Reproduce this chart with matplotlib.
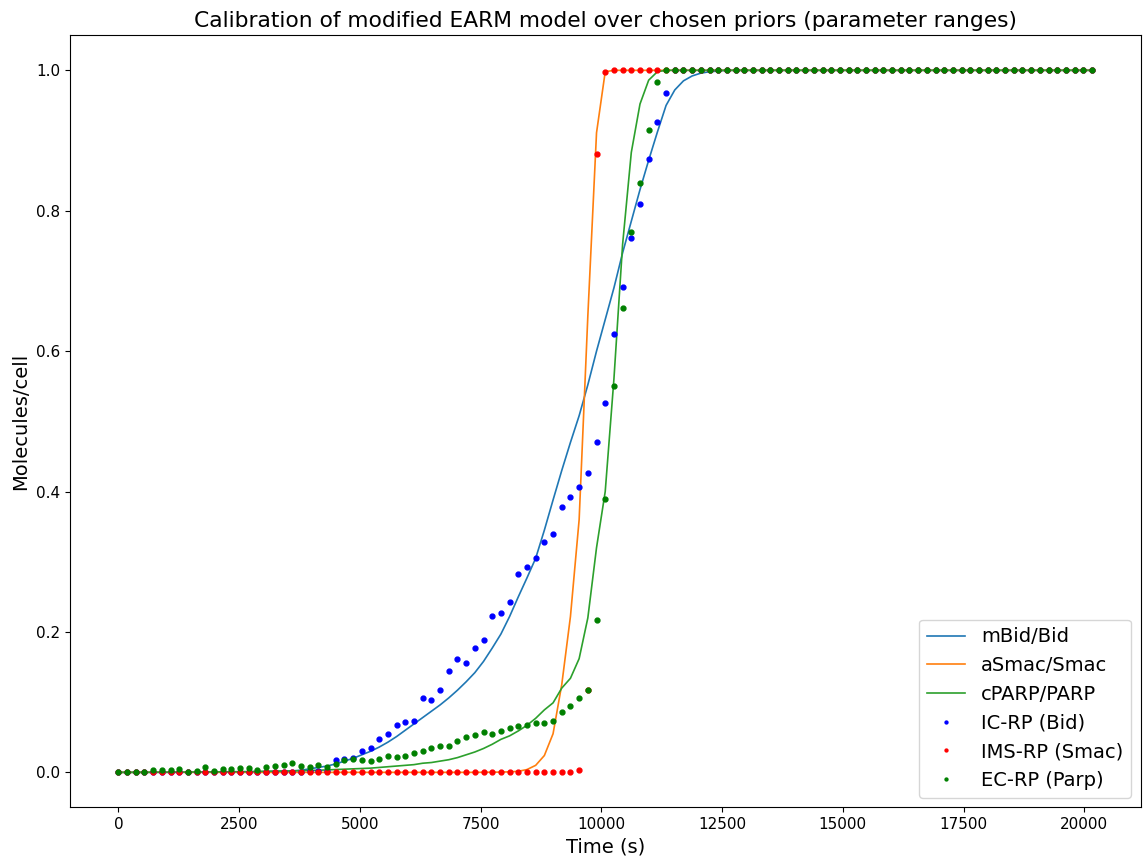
import numpy as np
import matplotlib
matplotlib.use('Agg')
import matplotlib.pyplot as plt

# time grid of the EARM data (s), one point every 180 s
time = np.arange(0, 20161, 180)

# model simulations (normalised)
mbid = [0.0, 0.0, 0.0, 0.0, 0.0001, 0.0001, 0.0001, 0.0002, 0.0002, 0.0003,
        0.0003, 0.0004, 0.0005, 0.0006, 0.0007, 0.0008, 0.001, 0.0012, 0.0014, 0.0017,
        0.002, 0.003, 0.005, 0.007, 0.009, 0.012, 0.016, 0.020, 0.025, 0.030,
        0.036, 0.043, 0.051, 0.060, 0.069, 0.078, 0.087, 0.096, 0.106, 0.117,
        0.129, 0.142, 0.158, 0.177, 0.197, 0.222, 0.250, 0.277, 0.305, 0.345,
        0.388, 0.430, 0.470, 0.508, 0.552, 0.600, 0.645, 0.690, 0.740, 0.785,
        0.830, 0.872, 0.912, 0.950, 0.972, 0.985, 0.992, 0.996, 0.998, 0.999,
        1.0, 1.0, 1.0, 1.0, 1.0, 1.0, 1.0, 1.0, 1.0, 1.0,
        1.0, 1.0, 1.0, 1.0, 1.0, 1.0, 1.0, 1.0, 1.0, 1.0,
        1.0, 1.0, 1.0, 1.0, 1.0, 1.0, 1.0, 1.0, 1.0, 1.0,
        1.0, 1.0, 1.0, 1.0, 1.0, 1.0, 1.0, 1.0, 1.0, 1.0,
        1.0, 1.0, 1.0]
asmac = [0.0, 0.0, 0.0, 0.0, 0.0, 0.0, 0.0, 0.0, 0.0, 0.0,
         0.0, 0.0, 0.0, 0.0, 0.0, 0.0, 0.0, 0.0, 0.0, 0.0,
         0.0, 0.0, 0.0, 0.0, 0.0, 0.0, 0.0, 0.0, 0.0, 0.0,
         0.0, 0.0, 0.0, 0.0, 0.0, 0.0, 0.0, 0.0, 0.0, 0.0,
         0.0, 0.0, 0.0001, 0.0002, 0.0004, 0.0007, 0.0015, 0.004, 0.010, 0.024,
         0.055, 0.125, 0.222, 0.360, 0.650, 0.911, 0.998, 1.0, 1.0, 1.0,
         1.0, 1.0, 1.0, 1.0, 1.0, 1.0, 1.0, 1.0, 1.0, 1.0,
         1.0, 1.0, 1.0, 1.0, 1.0, 1.0, 1.0, 1.0, 1.0, 1.0,
         1.0, 1.0, 1.0, 1.0, 1.0, 1.0, 1.0, 1.0, 1.0, 1.0,
         1.0, 1.0, 1.0, 1.0, 1.0, 1.0, 1.0, 1.0, 1.0, 1.0,
         1.0, 1.0, 1.0, 1.0, 1.0, 1.0, 1.0, 1.0, 1.0, 1.0,
         1.0, 1.0, 1.0]
cparp = [0.0, 0.0, 0.0001, 0.0001, 0.0002, 0.0002, 0.0003, 0.0003, 0.0004, 0.0005,
         0.0006, 0.0007, 0.0008, 0.0009, 0.001, 0.0011, 0.0013, 0.0015, 0.0017, 0.0019,
         0.0021, 0.0024, 0.0027, 0.003, 0.0035, 0.004, 0.0045, 0.005, 0.0055, 0.006,
         0.007, 0.008, 0.009, 0.010, 0.011, 0.013, 0.014, 0.016, 0.018, 0.021,
         0.025, 0.029, 0.034, 0.040, 0.047, 0.052, 0.059, 0.067, 0.077, 0.089,
         0.099, 0.120, 0.134, 0.162, 0.220, 0.320, 0.400, 0.560, 0.752, 0.883,
         0.952, 0.986, 0.998, 1.0, 1.0, 1.0, 1.0, 1.0, 1.0, 1.0,
         1.0, 1.0, 1.0, 1.0, 1.0, 1.0, 1.0, 1.0, 1.0, 1.0,
         1.0, 1.0, 1.0, 1.0, 1.0, 1.0, 1.0, 1.0, 1.0, 1.0,
         1.0, 1.0, 1.0, 1.0, 1.0, 1.0, 1.0, 1.0, 1.0, 1.0,
         1.0, 1.0, 1.0, 1.0, 1.0, 1.0, 1.0, 1.0, 1.0, 1.0,
         1.0, 1.0, 1.0]

# experimental reporter data
ic_rp = [0.0, 0.0, 0.0, 0.0, 0.0, 0.0, 0.0, 0.0, 0.0, 0.0,
         0.0, 0.0, 0.0, 0.0, 0.0, 0.0, 0.0, 0.0, 0.001, 0.001,
         0.001, 0.001, 0.002, 0.002, 0.002, 0.017, 0.019, 0.020, 0.030, 0.034,
         0.047, 0.054, 0.067, 0.072, 0.073, 0.106, 0.103, 0.118, 0.144, 0.162,
         0.156, 0.177, 0.189, 0.223, 0.227, 0.243, 0.283, 0.292, 0.305, 0.328,
         0.340, 0.378, 0.392, 0.407, 0.426, 0.470, 0.526, 0.624, 0.692, 0.761,
         0.809, 0.873, 0.926, 0.968, 1.0, 1.0, 1.0, 1.0, 1.0, 1.0,
         1.0, 1.0, 1.0, 1.0, 1.0, 1.0, 1.0, 1.0, 1.0, 1.0,
         1.0, 1.0, 1.0, 1.0, 1.0, 1.0, 1.0, 1.0, 1.0, 1.0,
         1.0, 1.0, 1.0, 1.0, 1.0, 1.0, 1.0, 1.0, 1.0, 1.0,
         1.0, 1.0, 1.0, 1.0, 1.0, 1.0, 1.0, 1.0, 1.0, 1.0,
         1.0, 1.0, 1.0]
ims_rp = [0.0, 0.0, 0.0, 0.0, 0.0, 0.0, 0.0, 0.0, 0.0, 0.0,
          0.0, 0.0, 0.0, 0.0, 0.0, 0.0, 0.0, 0.0, 0.0, 0.0,
          0.0, 0.0, 0.0, 0.0, 0.0, 0.0, 0.0, 0.0, 0.0, 0.0,
          0.0, 0.0, 0.0, 0.0, 0.0, 0.0, 0.0, 0.0, 0.0, 0.0,
          0.0, 0.0, 0.0, 0.0, 0.0, 0.0, 0.0, 0.0, 0.0, 0.0,
          0.0, 0.0, 0.0, 0.003, 0.118, 0.881, 0.998, 1.0, 1.0, 1.0,
          1.0, 1.0, 1.0, 1.0, 1.0, 1.0, 1.0, 1.0, 1.0, 1.0,
          1.0, 1.0, 1.0, 1.0, 1.0, 1.0, 1.0, 1.0, 1.0, 1.0,
          1.0, 1.0, 1.0, 1.0, 1.0, 1.0, 1.0, 1.0, 1.0, 1.0,
          1.0, 1.0, 1.0, 1.0, 1.0, 1.0, 1.0, 1.0, 1.0, 1.0,
          1.0, 1.0, 1.0, 1.0, 1.0, 1.0, 1.0, 1.0, 1.0, 1.0,
          1.0, 1.0, 1.0]
ec_rp = [0.0, 0.001, 0.001, 0.0, 0.004, 0.003, 0.003, 0.005, 0.001, 0.002,
         0.007, 0.002, 0.005, 0.005, 0.006, 0.006, 0.004, 0.007, 0.009, 0.010,
         0.013, 0.009, 0.007, 0.010, 0.008, 0.012, 0.018, 0.019, 0.018, 0.016,
         0.019, 0.023, 0.022, 0.024, 0.028, 0.030, 0.035, 0.037, 0.038, 0.044,
         0.051, 0.053, 0.057, 0.054, 0.059, 0.063, 0.066, 0.067, 0.071, 0.070,
         0.073, 0.086, 0.095, 0.106, 0.118, 0.217, 0.389, 0.551, 0.661, 0.770,
         0.839, 0.915, 0.983, 1.0, 1.0, 1.0, 1.0, 1.0, 1.0, 1.0,
         1.0, 1.0, 1.0, 1.0, 1.0, 1.0, 1.0, 1.0, 1.0, 1.0,
         1.0, 1.0, 1.0, 1.0, 1.0, 1.0, 1.0, 1.0, 1.0, 1.0,
         1.0, 1.0, 1.0, 1.0, 1.0, 1.0, 1.0, 1.0, 1.0, 1.0,
         1.0, 1.0, 1.0, 1.0, 1.0, 1.0, 1.0, 1.0, 1.0, 1.0,
         1.0, 1.0, 1.0]

plt.figure(figsize=(11.43, 8.59), dpi=100)
plt.plot(time, mbid, lw=1.2, label='mBid/Bid')
plt.plot(time, asmac, lw=1.2, label='aSmac/Smac')
plt.plot(time, cparp, lw=1.2, label='cPARP/PARP')
plt.plot(time, ic_rp, 'b.', ms=7, label='IC-RP (Bid)')
plt.plot(time, ims_rp, 'r.', ms=7, label='IMS-RP (Smac)')
plt.plot(time, ec_rp, 'g.', ms=7, label='EC-RP (Parp)')

plt.title('Calibration of modified EARM model over chosen priors (parameter ranges)', fontsize=15.7)
plt.xlabel('Time (s)', fontsize=14)
plt.ylabel('Molecules/cell', fontsize=14)
plt.tick_params(labelsize=11)
plt.legend(loc='lower right', fontsize=14, markerscale=0.6)

plt.subplots_adjust(left=0.061, right=0.998, top=0.959, bottom=0.06)
plt.savefig('out.png', dpi=100)
